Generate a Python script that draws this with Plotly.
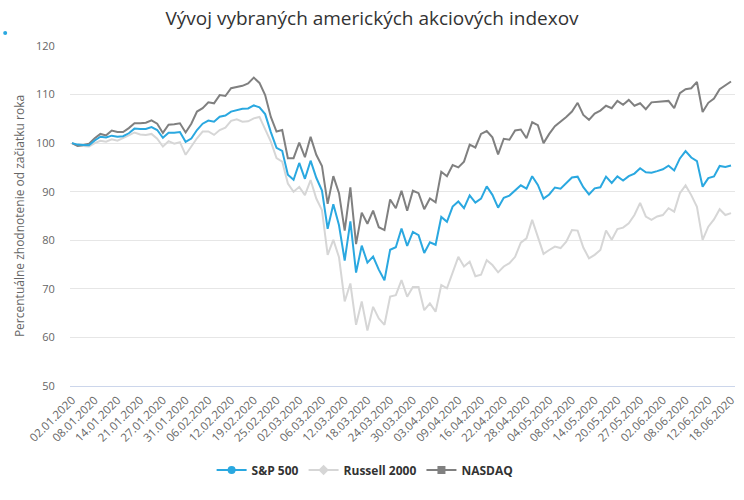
import plotly.graph_objects as go

dates = ["02.01.2020","03.01.2020","06.01.2020","07.01.2020","08.01.2020","09.01.2020","10.01.2020",
"13.01.2020","14.01.2020","15.01.2020","16.01.2020","17.01.2020","21.01.2020","22.01.2020","23.01.2020",
"24.01.2020","27.01.2020","28.01.2020","29.01.2020","30.01.2020","31.01.2020",
"03.02.2020","04.02.2020","05.02.2020","06.02.2020","07.02.2020","10.02.2020","11.02.2020","12.02.2020",
"13.02.2020","14.02.2020","18.02.2020","19.02.2020","20.02.2020","21.02.2020","24.02.2020","25.02.2020",
"26.02.2020","27.02.2020","28.02.2020",
"02.03.2020","03.03.2020","04.03.2020","05.03.2020","06.03.2020","09.03.2020","10.03.2020","11.03.2020",
"12.03.2020","13.03.2020","16.03.2020","17.03.2020","18.03.2020","19.03.2020","20.03.2020","23.03.2020",
"24.03.2020","25.03.2020","26.03.2020","27.03.2020","30.03.2020","31.03.2020",
"01.04.2020","02.04.2020","03.04.2020","06.04.2020","07.04.2020","08.04.2020","09.04.2020","13.04.2020",
"14.04.2020","15.04.2020","16.04.2020","17.04.2020","20.04.2020","21.04.2020","22.04.2020","23.04.2020",
"24.04.2020","27.04.2020","28.04.2020","29.04.2020","30.04.2020",
"01.05.2020","04.05.2020","05.05.2020","06.05.2020","07.05.2020","08.05.2020","11.05.2020","12.05.2020",
"13.05.2020","14.05.2020","15.05.2020","18.05.2020","19.05.2020","20.05.2020","21.05.2020","22.05.2020",
"26.05.2020","27.05.2020","28.05.2020","29.05.2020",
"01.06.2020","02.06.2020","03.06.2020","04.06.2020","05.06.2020","08.06.2020","09.06.2020","10.06.2020",
"11.06.2020","12.06.2020","15.06.2020","16.06.2020","17.06.2020","18.06.2020"]

sp500 = [100.0,99.70,99.64,99.55,100.55,101.31,101.15,101.54,101.33,101.43,102.03,102.99,102.93,102.90,103.30,
102.70,101.10,102.15,102.14,102.28,100.27,
100.95,102.70,104.01,104.65,104.40,105.44,105.68,106.50,106.74,107.10,107.15,107.76,107.39,105.98,102.28,99.04,
98.41,93.48,92.46,
95.92,92.66,96.39,92.87,90.23,82.37,87.40,83.09,75.84,83.88,73.35,78.89,75.41,76.64,73.96,71.77,
78.05,78.56,82.42,78.84,81.71,81.05,
77.40,79.58,79.08,84.80,83.79,86.94,87.98,86.61,89.26,87.76,88.58,91.11,89.36,86.71,88.75,89.20,
90.18,91.32,90.65,93.19,91.41,
88.57,89.43,90.87,90.62,91.80,92.92,93.09,90.94,89.44,90.70,90.91,93.11,91.80,93.15,92.30,93.20,
93.74,94.83,93.99,93.92,
94.24,94.63,95.37,94.38,96.85,98.37,97.04,96.31,91.04,92.80,93.16,95.30,95.08,95.40]

russell2000 = [100.0,99.4,99.4,99.3,100.0,100.5,100.3,100.8,100.5,101.0,101.6,102.2,101.8,101.7,101.9,
100.9,99.3,100.4,99.9,100.2,97.6,
99.3,101.0,102.4,102.4,101.7,102.7,103.2,104.6,104.9,104.4,104.5,105.1,105.4,103.0,100.3,96.9,
96.2,91.7,90.0,
91.0,89.3,92.4,88.6,86.2,77.0,80.1,76.5,67.4,71.1,62.6,67.4,61.4,66.3,63.9,62.6,
68.4,68.7,71.8,68.4,70.4,70.4,
65.6,67.0,65.3,70.8,70.1,73.3,76.6,74.6,75.6,72.6,72.9,75.9,74.9,73.4,74.6,75.3,
76.6,79.5,80.4,84.2,80.8,
77.2,78.0,78.7,78.4,79.7,82.1,82.0,78.5,76.3,77.0,78.0,82.0,80.1,82.3,82.6,83.5,
85.2,87.7,84.9,84.2,
84.9,85.2,86.6,85.9,89.7,91.3,89.3,86.9,80.1,82.8,84.3,86.4,85.2,85.6]

nasdaq = [100.0,99.4,99.6,99.9,101.0,101.9,101.6,102.6,102.3,102.3,103.1,104.1,104.1,104.2,104.7,
104.0,102.1,103.8,103.9,104.1,102.2,
104.0,106.5,107.2,108.4,108.2,109.9,109.7,111.3,111.6,111.8,112.3,113.5,112.4,109.9,105.4,102.4,
102.7,96.9,96.9,
100.1,97.1,101.3,97.6,95.3,87.5,93.2,89.7,82.0,90.9,79.2,85.7,83.4,86.1,82.7,82.1,
88.4,86.6,90.2,86.1,90.2,89.7,
86.4,88.6,87.8,94.1,93.2,95.5,95.0,96.2,99.7,99.1,101.9,102.5,101.2,97.7,100.9,100.7,
102.6,102.8,101.0,104.3,103.7,
100.0,101.9,103.5,104.4,105.4,106.5,108.3,105.8,104.8,106.1,106.7,107.7,107.2,108.7,107.9,108.9,
107.7,108.2,107.0,108.4,
108.5,108.7,108.7,107.2,110.3,111.1,111.3,112.6,106.4,108.3,109.2,111.1,111.9,112.7]

series_names = ["S&P 500", "Russell 2000", "NASDAQ"]
colors = ["#2aa8e0", "#d6d6d6", "#808080"]
symbols = ["circle", "diamond", "square"]

tick_step = 4
xi = list(range(len(dates)))
tickvals = xi[::tick_step]
ticktext = dates[::tick_step]

fig = go.Figure()
# draw Russell first, then NASDAQ, then S&P on top
for idx in (1, 2, 0):
    name, vals, col = series_names[idx], [sp500, russell2000, nasdaq][idx], colors[idx]
    fig.add_trace(go.Scatter(x=xi, y=vals, mode="lines", name=name, showlegend=False,
                             line=dict(color=col, width=2),
                             hovertemplate="%{y:.2f}<extra>" + name + "</extra>"))

for name, col, sym in zip(series_names, colors, symbols):
    fig.add_trace(go.Scatter(x=[None], y=[None], mode="lines+markers", name=name,
                             line=dict(color=col, width=2),
                             marker=dict(symbol=sym, size=8, color=col)))

font_family = "Open Sans, DejaVu Sans, sans-serif"
fig.update_layout(
    width=744, height=500,
    margin=dict(l=70, r=7, t=46, b=114),
    paper_bgcolor="white", plot_bgcolor="white",
    font=dict(family=font_family, color="#666666", size=11),
    title=dict(text="Vývoj vybraných amerických akciových indexov", x=0.5, xanchor="center",
               y=1 - 18 / 500, yanchor="middle", yref="container",
               font=dict(size=19, color="#333333", family=font_family)),
    showlegend=True,
    legend=dict(orientation="h", x=(366 - 70) / 667, xanchor="center", y=-0.247, yanchor="middle",
                font=dict(size=12, color="#333333", family=font_family, weight="bold"),
                itemwidth=30, traceorder="normal"),
    xaxis=dict(range=[-0.35, 116.7], tickmode="array", tickvals=tickvals, ticktext=ticktext,
               tickangle=-45, showgrid=False, zeroline=False, showline=True,
               linecolor="#ccd6eb", linewidth=1, ticks="outside", ticklen=2,
               tickcolor="rgba(0,0,0,0)",
               tickfont=dict(size=11.5, color="#666666")),
    yaxis=dict(range=[50, 120], dtick=10, showgrid=True, gridcolor="#e6e6e6", gridwidth=1,
               zeroline=False, showline=False, ticks="outside", ticklen=12,
               tickcolor="rgba(0,0,0,0)",
               tickfont=dict(size=11, color="#666666"),
               title=dict(text="Percentuálne zhodnotenie od začiatku roka", standoff=8,
                          font=dict(size=12, color="#666666"))),
)
fig.add_shape(type="circle", xref="paper", yref="paper",
              x0=(3 - 70) / 667, x1=(7 - 70) / 667, y0=(386 - 35) / 340, y1=(386 - 31) / 340,
              fillcolor="#2aa8e0", line=dict(width=0))

fig.write_html("out.html")
